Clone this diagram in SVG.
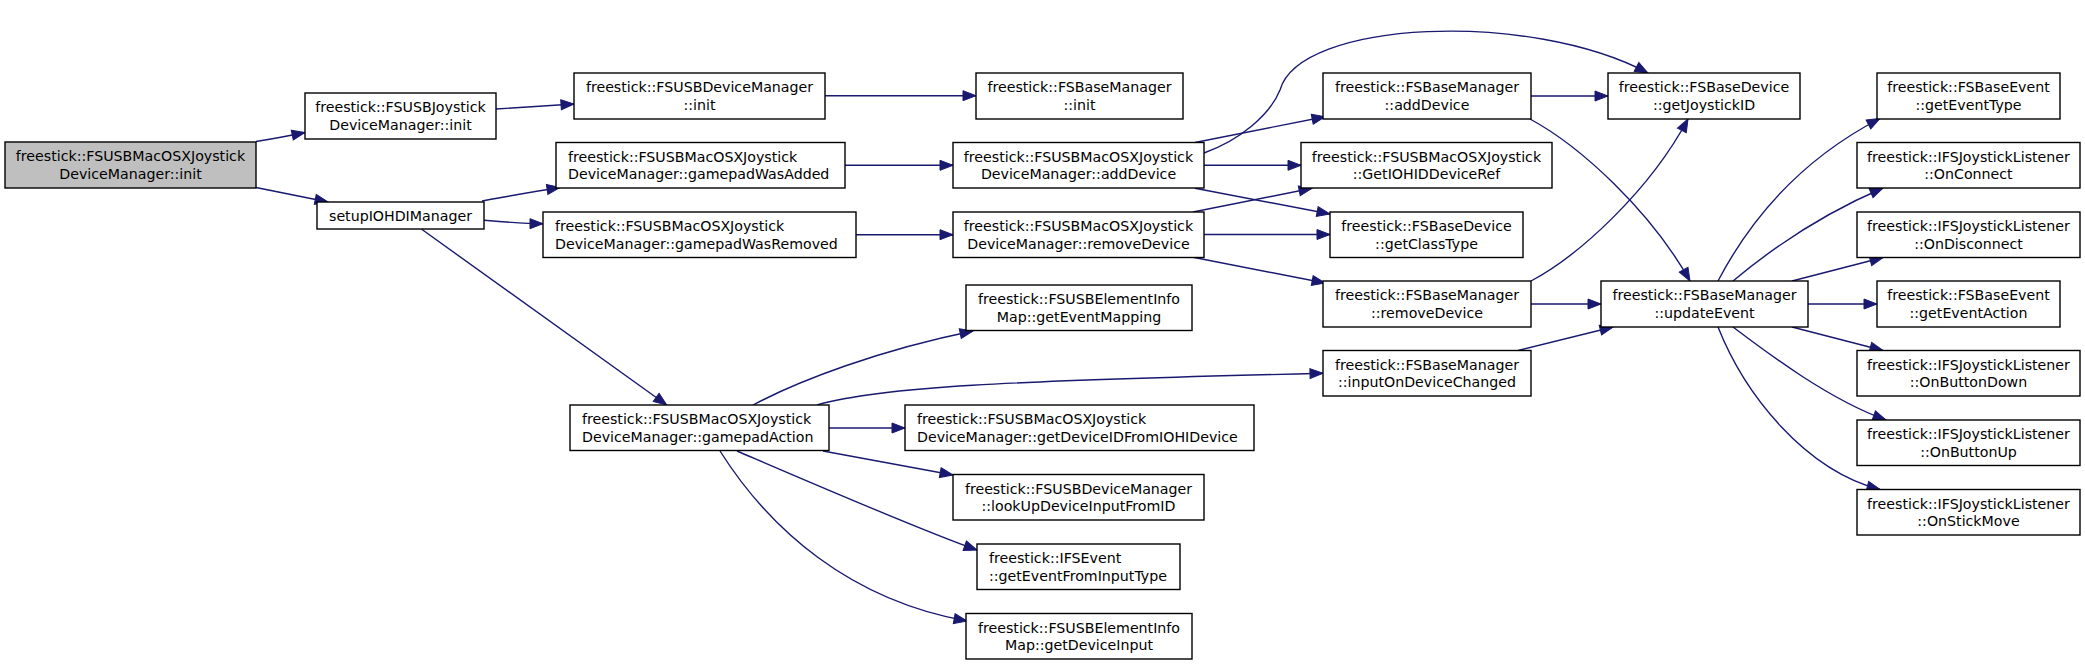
<svg xmlns="http://www.w3.org/2000/svg" width="2085" height="664" viewBox="0 0 2085 664">
<defs>
<marker id="arr" markerUnits="userSpaceOnUse" markerWidth="15" markerHeight="12" refX="13" refY="5" orient="auto" overflow="visible">
<path d="M0,0 L13,5 L0,10 z" fill="#191970" stroke="#191970" stroke-width="1"/>
</marker>
<style>
.node rect{fill:#ffffff;stroke:#000000;stroke-width:1.4}
.root rect{fill:#bfbfbf}
text{font-family:"DejaVu Sans","Liberation Sans",sans-serif;font-size:14.2px;fill:#000000}
.c{text-anchor:middle}
.l{text-anchor:start}
#edges path{fill:none;stroke:#191970;stroke-width:1.4;marker-end:url(#arr)}
</style>
</defs>
<rect width="2085" height="664" fill="#ffffff"/>
<g id="edges">
<path d="M256,141.5 C275,138.5 288,136 305,132.5"/>
<path d="M256,187.5 L328,202"/>
<path d="M496,109 L574,104"/>
<path d="M825,95.7 L976,95.7"/>
<path d="M482,201 C505,197 530,192 560,187.5"/>
<path d="M484,220.3 C505,222 525,223.7 543,223.7"/>
<path d="M421.7,229.3 L666.7,405"/>
<path d="M845,165.3 L953,165.3"/>
<path d="M856,234.7 L953,234.7"/>
<path d="M1195,142.5 L1325,116.7"/>
<path d="M1204,153 C1240,140 1270,115 1280,90 C1300,20 1530,10 1648,73"/>
<path d="M1204,165.3 L1301,165.3"/>
<path d="M1195,188.3 L1330,214"/>
<path d="M1193,212 L1312,188.3"/>
<path d="M1204,234.5 L1330,234.5"/>
<path d="M1193,257.3 L1325,283"/>
<path d="M1531,96 L1608,96"/>
<path d="M1530,119 C1580,146 1650,210 1690,281"/>
<path d="M1531,281 C1580,255 1650,190 1688,119"/>
<path d="M1531,304 L1601,304"/>
<path d="M1518,350.5 L1613,327"/>
<path d="M817,405 C880,387 1000,381 1323,373.3"/>
<path d="M753,405 C800,380 880,350 973,331"/>
<path d="M829,428 L905,428"/>
<path d="M823,451 L953,475"/>
<path d="M737,451 C800,478 920,530 977,550"/>
<path d="M720,451 C770,530 850,600 967,621"/>
<path d="M1718,281 C1750,220 1800,160 1880,118.5"/>
<path d="M1733,281 C1770,250 1820,215 1883,188"/>
<path d="M1792,281 L1883,257.5"/>
<path d="M1808,304 L1877,304"/>
<path d="M1792,327 L1883,350.5"/>
<path d="M1733,327 C1770,355 1830,400 1886,420"/>
<path d="M1718,327 C1745,395 1805,470 1880,489.5"/>
</g>
<g id="n_root" class="node root"><rect x="5" y="142" width="251" height="46"/><text class="c" x="130.5" y="161">freestick::FSUSBMacOSXJoystick</text><text class="c" x="130.5" y="178.5">DeviceManager::init</text></g>
<g id="n_usbjoy_init" class="node"><rect x="305" y="93" width="191" height="46"/><text class="c" x="400.5" y="112">freestick::FSUSBJoystick</text><text class="c" x="400.5" y="129.5">DeviceManager::init</text></g>
<g id="n_setup" class="node"><rect x="317" y="202" width="167" height="27"/><text class="c" x="400.5" y="220.5">setupIOHDIManager</text></g>
<g id="n_usbdm_init" class="node"><rect x="574" y="73" width="251" height="46"/><text class="c" x="699.5" y="92">freestick::FSUSBDeviceManager</text><text class="c" x="699.5" y="109.5">::init</text></g>
<g id="n_bm_init" class="node"><rect x="976" y="73" width="207" height="46"/><text class="c" x="1079.5" y="92">freestick::FSBaseManager</text><text class="c" x="1079.5" y="109.5">::init</text></g>
<g id="n_added" class="node"><rect x="556" y="142.5" width="289" height="45.5"/><text class="l" x="568" y="161.5">freestick::FSUSBMacOSXJoystick</text><text class="l" x="568" y="179">DeviceManager::gamepadWasAdded</text></g>
<g id="n_removed" class="node"><rect x="543" y="212" width="313" height="45.5"/><text class="l" x="555" y="231">freestick::FSUSBMacOSXJoystick</text><text class="l" x="555" y="248.5">DeviceManager::gamepadWasRemoved</text></g>
<g id="n_adddev" class="node"><rect x="953" y="142.5" width="251" height="45.5"/><text class="c" x="1078.5" y="161.5">freestick::FSUSBMacOSXJoystick</text><text class="c" x="1078.5" y="179">DeviceManager::addDevice</text></g>
<g id="n_remdev" class="node"><rect x="953" y="212" width="251" height="45.5"/><text class="c" x="1078.5" y="231">freestick::FSUSBMacOSXJoystick</text><text class="c" x="1078.5" y="248.5">DeviceManager::removeDevice</text></g>
<g id="n_evmap" class="node"><rect x="966" y="285" width="226" height="45.5"/><text class="c" x="1079" y="304">freestick::FSUSBElementInfo</text><text class="c" x="1079" y="321.5">Map::getEventMapping</text></g>
<g id="n_action" class="node"><rect x="570" y="405" width="259" height="45.5"/><text class="l" x="582" y="424">freestick::FSUSBMacOSXJoystick</text><text class="l" x="582" y="441.5">DeviceManager::gamepadAction</text></g>
<g id="n_devid" class="node"><rect x="905" y="405" width="349" height="45.5"/><text class="l" x="917" y="424">freestick::FSUSBMacOSXJoystick</text><text class="l" x="917" y="441.5">DeviceManager::getDeviceIDFromIOHIDevice</text></g>
<g id="n_lookup" class="node"><rect x="953" y="474.5" width="251" height="45.5"/><text class="c" x="1078.5" y="493.5">freestick::FSUSBDeviceManager</text><text class="c" x="1078.5" y="511">::lookUpDeviceInputFromID</text></g>
<g id="n_evfrom" class="node"><rect x="977" y="544" width="203" height="45.5"/><text class="l" x="989" y="563">freestick::IFSEvent</text><text class="l" x="989" y="580.5">::getEventFromInputType</text></g>
<g id="n_devinput" class="node"><rect x="966" y="613.5" width="226" height="45.5"/><text class="c" x="1079" y="632.5">freestick::FSUSBElementInfo</text><text class="c" x="1079" y="650">Map::getDeviceInput</text></g>
<g id="n_bm_add" class="node"><rect x="1323" y="73" width="208" height="46"/><text class="c" x="1427" y="92">freestick::FSBaseManager</text><text class="c" x="1427" y="109.5">::addDevice</text></g>
<g id="n_iohid" class="node"><rect x="1301" y="142.5" width="251" height="45.5"/><text class="c" x="1426.5" y="161.5">freestick::FSUSBMacOSXJoystick</text><text class="c" x="1426.5" y="179">::GetIOHIDDeviceRef</text></g>
<g id="n_classtype" class="node"><rect x="1330" y="212" width="193" height="45.5"/><text class="c" x="1426.5" y="231">freestick::FSBaseDevice</text><text class="c" x="1426.5" y="248.5">::getClassType</text></g>
<g id="n_bm_rem" class="node"><rect x="1323" y="281" width="208" height="46"/><text class="c" x="1427" y="300">freestick::FSBaseManager</text><text class="c" x="1427" y="317.5">::removeDevice</text></g>
<g id="n_bm_input" class="node"><rect x="1323" y="350.5" width="208" height="45.5"/><text class="c" x="1427" y="369.5">freestick::FSBaseManager</text><text class="c" x="1427" y="387">::inputOnDeviceChanged</text></g>
<g id="n_joyid" class="node"><rect x="1608" y="73" width="192" height="46"/><text class="c" x="1704" y="92">freestick::FSBaseDevice</text><text class="c" x="1704" y="109.5">::getJoystickID</text></g>
<g id="n_update" class="node"><rect x="1601" y="281" width="207" height="46"/><text class="c" x="1704.5" y="300">freestick::FSBaseManager</text><text class="c" x="1704.5" y="317.5">::updateEvent</text></g>
<g id="n_evtype" class="node"><rect x="1877" y="73" width="183" height="46"/><text class="c" x="1968.5" y="92">freestick::FSBaseEvent</text><text class="c" x="1968.5" y="109.5">::getEventType</text></g>
<g id="n_onconn" class="node"><rect x="1857" y="142.5" width="223" height="45.5"/><text class="c" x="1968.5" y="161.5">freestick::IFSJoystickListener</text><text class="c" x="1968.5" y="179">::OnConnect</text></g>
<g id="n_ondisc" class="node"><rect x="1857" y="212" width="223" height="45.5"/><text class="c" x="1968.5" y="231">freestick::IFSJoystickListener</text><text class="c" x="1968.5" y="248.5">::OnDisconnect</text></g>
<g id="n_evaction" class="node"><rect x="1877" y="281" width="183" height="46"/><text class="c" x="1968.5" y="300">freestick::FSBaseEvent</text><text class="c" x="1968.5" y="317.5">::getEventAction</text></g>
<g id="n_btndown" class="node"><rect x="1857" y="350.5" width="223" height="45.5"/><text class="c" x="1968.5" y="369.5">freestick::IFSJoystickListener</text><text class="c" x="1968.5" y="387">::OnButtonDown</text></g>
<g id="n_btnup" class="node"><rect x="1857" y="420" width="223" height="45.5"/><text class="c" x="1968.5" y="439">freestick::IFSJoystickListener</text><text class="c" x="1968.5" y="456.5">::OnButtonUp</text></g>
<g id="n_stick" class="node"><rect x="1857" y="489.5" width="223" height="45.5"/><text class="c" x="1968.5" y="508.5">freestick::IFSJoystickListener</text><text class="c" x="1968.5" y="526">::OnStickMove</text></g>
</svg>
